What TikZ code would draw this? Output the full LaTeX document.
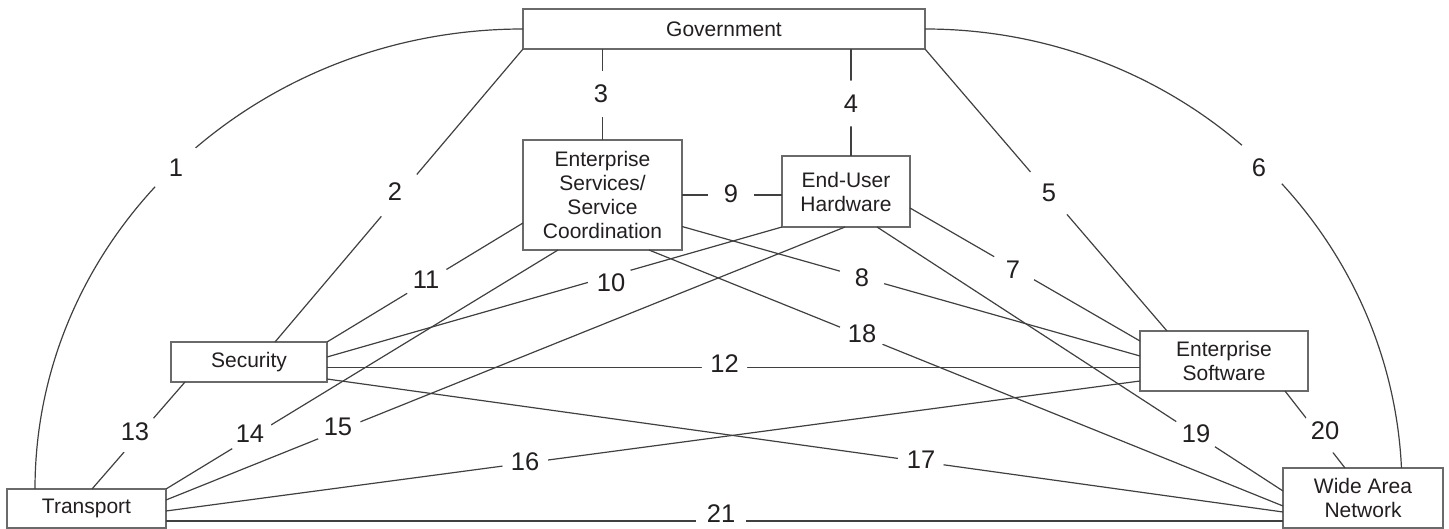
\documentclass[tikz,border=0pt]{standalone}
\usepackage{fontspec}
\setmainfont{Liberation Sans}
\definecolor{ln}{HTML}{404040}
\definecolor{bx}{HTML}{6A6A6A}
\definecolor{tx}{HTML}{231F20}
\begin{document}
\begin{tikzpicture}[x=1pt,y=1pt,
  box/.style={draw=bx, line width=1.6pt, fill=white, inner sep=0pt, outer sep=0pt, align=center, text=tx, font=\fontsize{21}{24}\selectfont},
  conn/.style={draw=ln, line width=1.2pt},
  lab/.style={circle, fill=white, inner sep=0pt, minimum size=46pt, text=tx, font=\fontsize{25.5}{26}\selectfont},
  wlab/.style={lab, minimum size=56pt},
  flatlab/.style={rectangle, fill=white, inner xsep=11pt, inner ysep=1pt, text=tx, font=\fontsize{25.5}{26}\selectfont}]
\useasboundingbox (0,0) rectangle (1449,-529);
% boxes
\node[box, minimum width=402pt, minimum height=40pt] (gov) at (724,-29) {Government};
\node[box, minimum width=159pt, minimum height=110pt] (es) at (602.5,-195) {Enterprise\\Services/\\Service\\Coordination};
\node[box, minimum width=128pt, minimum height=71pt] (euh) at (846,-191.5) {End-User\\Hardware};
\node[box, minimum width=156pt, minimum height=40pt] (sec) at (249,-362) {Security};
\node[box, minimum width=168pt, minimum height=60pt] (esw) at (1224,-361) {Enterprise\\Software};
\node[box, minimum width=159pt, minimum height=39pt] (tr) at (86.5,-508.5) {Transport};
\node[box, minimum width=160pt, minimum height=60pt] (wan) at (1363,-498) {Wide Area\\Network};
% connectors
\draw[conn] ([xshift=28pt]tr.north west) arc[start angle=180, end angle=90, x radius=488pt, y radius=460pt];
\draw[conn] (gov.south west) -- ([xshift=104pt]sec.north west);
\draw[conn] (es.north) -- (es.north |- gov.south);
\coordinate (e4) at ([xshift=69pt]euh.north west);
\draw[conn] (e4) -- (e4 |- gov.south);
\draw[conn] (gov.south east) -- ([xshift=27pt]esw.north west);
\draw[conn] (gov.east) arc[start angle=90, end angle=2.6, x radius=477pt, y radius=460pt];
\draw[conn] ([yshift=-52pt]euh.north east) -- ([yshift=-10pt]esw.north west);
\draw[conn] ([yshift=-86.5pt]es.north east) -- ([yshift=-25pt]esw.north west);
\draw[conn] (es.east) -- (es.east -| euh.west);
\draw[conn] (euh.south west) -- ([yshift=-15pt]sec.north east);
\draw[conn] ([yshift=-83pt]es.north west) -- (sec.north east);
\coordinate (s12) at ([yshift=-25.5pt]sec.north east);
\draw[conn] (s12) -- (s12 -| esw.west);
\draw[conn] ([xshift=14pt]sec.south west) -- ([xshift=85pt]tr.north west);
\draw[conn] ([xshift=35pt]es.south west) -- (tr.north east);
\draw[conn] ([xshift=63pt]euh.south west) -- ([yshift=-11pt]tr.north east);
\draw[conn] ([yshift=-50pt]esw.north west) -- ([yshift=-22pt]tr.north east);
\draw[conn] ([yshift=-37pt]sec.north east) -- ([yshift=-44pt]wan.north west);
\draw[conn] ([xshift=126pt]es.south west) -- ([yshift=-38pt]wan.north west);
\draw[conn] ([xshift=95pt]euh.south west) -- ([yshift=-23pt]wan.north west);
\draw[conn] ([xshift=145pt]esw.south west) -- ([xshift=62pt]wan.north west);
\coordinate (t21) at ([yshift=-32pt]tr.north east);
\draw[conn] (t21) -- (t21 -| wan.west);
% labels
\node[wlab] (l1) at (176,-168) {1};
\node[wlab] (l2) at (395,-192) {2};
\node[lab] (l3) at (601,-94) {3};
\node[lab] (l4) at (851,-103.5) {4};
\node[wlab] (l5) at (1049,-193) {5};
\node[wlab] (l6) at (1259,-167.5) {6};
\node[lab] (l7) at (1013,-270) {7};
\node[lab] (l8) at (862,-277.5) {8};
\node[lab] (l9) at (731,-194) {9};
\node[lab] (l10) at (611,-282.5) {10};
\node[lab] (l11) at (426,-280) {11};
\node[lab] (l12) at (724.5,-364) {12};
\node[lab] (l13) at (135,-432) {13};
\node[lab] (l14) at (250,-434) {14};
\node[lab] (l15) at (338,-427) {15};
\node[lab] (l16) at (525,-461.5) {16};
\node[lab] (l17) at (921,-460) {17};
\node[lab] (l18) at (862,-334) {18};
\node[lab] (l19) at (1196,-433.5) {19};
\node[lab] (l20) at (1325,-431) {20};
\node[flatlab] (l21) at (721,-514) {21};
\end{tikzpicture}
\end{document}
